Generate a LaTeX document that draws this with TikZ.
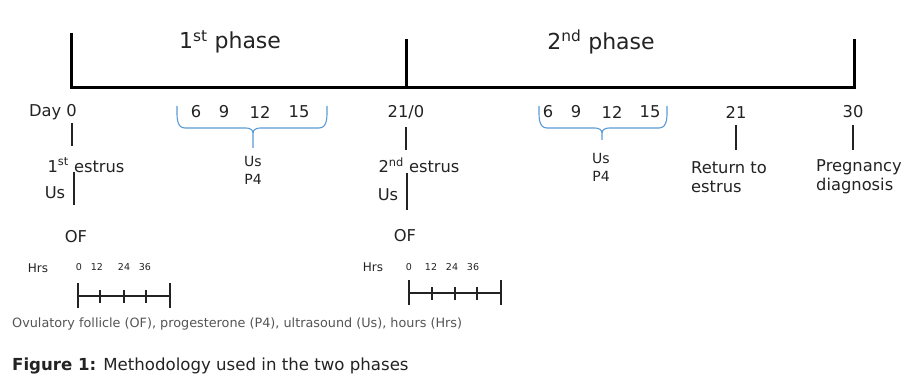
\documentclass[tikz,border=0pt]{standalone}
\usepackage{fontspec}
\setmainfont{DejaVu Sans}
\definecolor{txt}{RGB}{35,35,35}
\definecolor{note}{RGB}{85,85,85}
\definecolor{bracec}{RGB}{91,155,213}
\begin{document}
\begin{tikzpicture}[x=1pt,y=-1pt,
  mainline/.style={line width=3pt,line join=miter,draw=black},
  tickline/.style={line width=1.2pt,draw=txt},
  hrbar/.style={line width=1.6pt,draw=txt},
  bracel/.style={line width=1.1pt,draw=bracec},
  phase/.style={inner sep=0pt,text=txt,font=\fontsize{22}{24}\selectfont},
  lab/.style={inner sep=0pt,text=txt,font=\fontsize{16.3}{19}\selectfont},
  smalllab/.style={inner sep=0pt,text=txt,font=\fontsize{14}{16}\selectfont},
  hrslab/.style={inner sep=0pt,text=txt,font=\fontsize{12}{14}\selectfont},
  hrnum/.style={inner sep=0pt,text=txt,font=\fontsize{9.5}{11}\selectfont},
  notetext/.style={inner sep=0pt,anchor=west,text=note,font=\fontsize{12.8}{14}\selectfont},
  captext/.style={inner sep=0pt,anchor=west,text=txt,font=\fontsize{16.6}{18}\selectfont}]
\useasboundingbox (0,0) rectangle (901,374);
\fill[white] (0,0) rectangle (901,374);

% main timeline
\coordinate (L0) at (71,33);
\coordinate (L1) at (71,88);
\coordinate (M0) at (406,39);
\coordinate (M1) at (406,88);
\coordinate (R0) at (854,39);
\coordinate (R1) at (854,88);
\draw[mainline] (L0) -- (L1) -- (R1) -- (R0);
\draw[mainline] (M0) -- (M1);

\node[phase] (ph1) at (230,42) {1\textsuperscript{st} phase};
\node[phase] (ph2) at (601,42) {2\textsuperscript{nd} phase};

% day labels
\node[lab] (day0) at (53,112) {Day 0};
\node[lab] (d210) at (406,112) {21/0};
\node[lab] (d21) at (736,112) {21};
\node[lab] (d30) at (853,112) {30};

% brace 1 numbers
\node[lab] (a6) at (196,112) {6};
\node[lab] (a9) at (224,112) {9};
\node[lab] (a12) at (260,112) {12};
\node[lab] (a15) at (299,112) {15};
% brace 2 numbers
\node[lab] (b6) at (548,112) {6};
\node[lab] (b9) at (576,112) {9};
\node[lab] (b12) at (612,112) {12};
\node[lab] (b15) at (650,112) {15};

% braces
\coordinate (br1l) at (177,106);
\coordinate (br1r) at (327,106);
\coordinate (br1m) at (253,133);
\coordinate (br1t) at (253,148);
\draw[bracel] (br1l) to[out=-90,in=180] (185,128) -- (246,128) to[out=0,in=90] (br1m) -- (br1t);
\draw[bracel] (br1m) to[out=90,in=180] (260,128) -- (319,128) to[out=0,in=-90] (br1r);
\coordinate (br2l) at (539,106);
\coordinate (br2r) at (667,106);
\coordinate (br2m) at (602,133);
\coordinate (br2t) at (602,140);
\draw[bracel] (br2l) to[out=-90,in=180] (547,128) -- (595,128) to[out=0,in=90] (br2m) -- (br2t);
\draw[bracel] (br2m) to[out=90,in=180] (609,128) -- (659,128) to[out=0,in=-90] (br2r);

\node[smalllab] (us1) at (253,161) {Us};
\node[smalllab] (p41) at (253,179) {P4};
\node[smalllab] (us2) at (601,158) {Us};
\node[smalllab] (p42) at (601,176) {P4};

% vertical ticks under day labels
\coordinate (t0a) at (72,123); \coordinate (t0b) at (72,146);
\coordinate (t1a) at (406,127); \coordinate (t1b) at (406,150);
\coordinate (t2a) at (736,125); \coordinate (t2b) at (736,150);
\coordinate (t3a) at (853,125); \coordinate (t3b) at (853,150);
\draw[tickline] (t0a) -- (t0b);
\draw[tickline] (t1a) -- (t1b);
\draw[tickline] (t2a) -- (t2b);
\draw[tickline] (t3a) -- (t3b);

% estrus labels
\node[lab] (e1) at (86,165) {1\textsuperscript{st} estrus};
\node[lab] (e2) at (419,165) {2\textsuperscript{nd} estrus};
\node[lab,anchor=west,align=left] (ret) at (691,177) {Return to\\estrus};
\node[lab,anchor=west,align=left] (preg) at (816,177) {Pregnancy\\diagnosis};

% Us lines
\node[lab] (usa) at (55,193) {Us};
\node[lab] (usb) at (388,195) {Us};
\coordinate (u1a) at (74,172); \coordinate (u1b) at (74,205);
\coordinate (u2a) at (407,173); \coordinate (u2b) at (407,210);
\draw[tickline] (u1a) -- (u1b);
\draw[tickline] (u2a) -- (u2b);

\node[lab] (of1) at (76,237) {OF};
\node[lab] (of2) at (405,236) {OF};

% hours scales
\node[hrslab] (hrs1) at (38,268) {Hrs};
\node[hrnum] (h10) at (79,267) {0};
\node[hrnum] (h112) at (97,267) {12};
\node[hrnum] (h124) at (124,267) {24};
\node[hrnum] (h136) at (145,267) {36};
\coordinate (s1a) at (78,296); \coordinate (s1b) at (170,296);
\draw[hrbar] (s1a) -- (s1b);
\foreach \x in {78,170} \draw[hrbar] (\x,283) -- (\x,308);
\foreach \x in {100,124,146} \draw[hrbar] (\x,290) -- (\x,303);

\node[hrslab] (hrs2) at (373,267) {Hrs};
\node[hrnum] (h20) at (409,267) {0};
\node[hrnum] (h212) at (431,267) {12};
\node[hrnum] (h224) at (452,267) {24};
\node[hrnum] (h236) at (473,267) {36};
\coordinate (s2a) at (409,293); \coordinate (s2b) at (501,293);
\draw[hrbar] (s2a) -- (s2b);
\foreach \x in {409,501} \draw[hrbar] (\x,280) -- (\x,305);
\foreach \x in {432,455,477} \draw[hrbar] (\x,287) -- (\x,300);

% notes
\node[notetext] (note) at (12,324) {Ovulatory follicle (OF), progesterone (P4), ultrasound (Us), hours (Hrs)};
\node[captext] (cap) at (12,366) {\textbf{Figure 1:} Methodology used in the two phases};
\end{tikzpicture}
\end{document}
